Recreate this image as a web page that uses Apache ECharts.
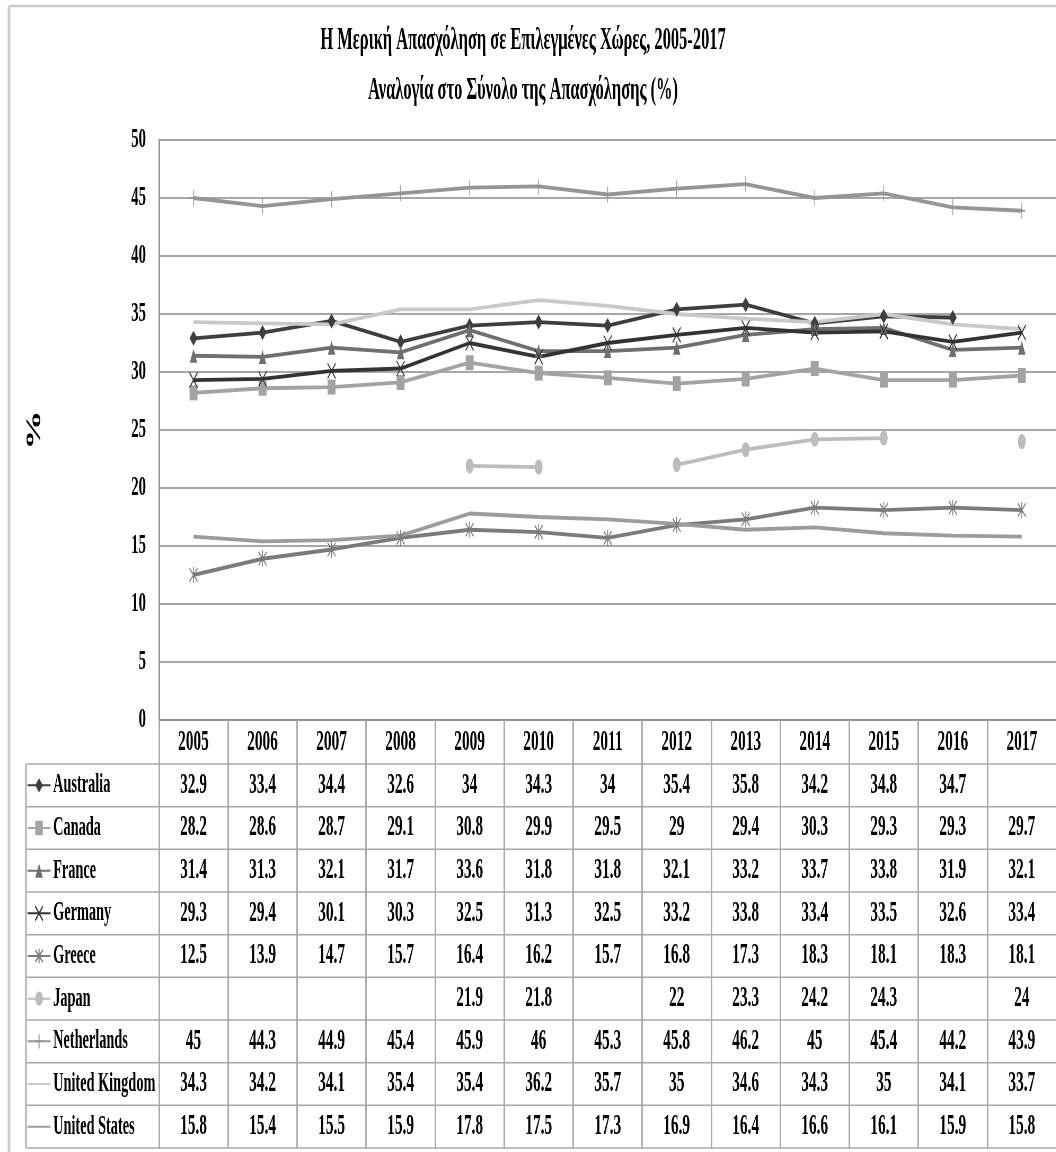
<!DOCTYPE html>
<html><head><meta charset="utf-8">
<script src="https://cdn.jsdelivr.net/npm/echarts@6/dist/echarts.min.js"></script>
<style>
html,body{margin:0;padding:0;background:#fff;overflow:hidden;width:1056px;height:1152px;}
#c{width:1993px;height:1152px;transform:scaleX(0.53);transform-origin:0 0;}
</style></head><body><div id="c"></div>
<script>
// ---- data ----
const years = ['2005','2006','2007','2008','2009','2010','2011','2012','2013','2014','2015','2016','2017'];
const australia   = [32.9,33.4,34.4,32.6,34,34.3,34,35.4,35.8,34.2,34.8,34.7,null];
const canada      = [28.2,28.6,28.7,29.1,30.8,29.9,29.5,29,29.4,30.3,29.3,29.3,29.7];
const france      = [31.4,31.3,32.1,31.7,33.6,31.8,31.8,32.1,33.2,33.7,33.8,31.9,32.1];
const germany     = [29.3,29.4,30.1,30.3,32.5,31.3,32.5,33.2,33.8,33.4,33.5,32.6,33.4];
const greece      = [12.5,13.9,14.7,15.7,16.4,16.2,15.7,16.8,17.3,18.3,18.1,18.3,18.1];
const japan       = [null,null,null,null,21.9,21.8,null,22,23.3,24.2,24.3,null,24];
const netherlands = [45,44.3,44.9,45.4,45.9,46,45.3,45.8,46.2,45,45.4,44.2,43.9];
const unitedKingdom = [34.3,34.2,34.1,35.4,35.4,36.2,35.7,35,34.6,34.3,35,34.1,33.7];
const unitedStates  = [15.8,15.4,15.5,15.9,17.8,17.5,17.3,16.9,16.4,16.6,16.1,15.9,15.8];
const seriesNames = ['Australia','Canada','France','Germany','Greece','Japan','Netherlands','United Kingdom','United States'];
const seriesValues = [australia,canada,france,germany,greece,japan,netherlands,unitedKingdom,unitedStates];
const yMin = 0, yMax = 50, yStep = 5;
const titleLine1 = 'Η Μερική Απασχόληση σε Επιλεγμένες Χώρες, 2005-2017';
const titleLine2 = 'Αναλογία στο Σύνολο της Απασχόλησης (%)';
const yAxisName = '%';

// ---- styles ----
const S = 0.53;             // horizontal squeeze applied by CSS
const X = r => r / S;       // real px -> chart px (x only)
const FAM = 'Liberation Serif';
const colors = ['#3e3e3e','#a3a3a3','#6f6f6f','#333333','#7b7b7b','#bdbdbd','#959595','#c9c9c9','#9c9c9c'];
const pX = 'path://M0,0L10,10M10,0L0,10';
const pStar = 'path://M0,0L10,10M10,0L0,10M5,-1L5,11';
const pPlus = 'path://M5,0L5,10M0,5L10,5';
const symbols = ['diamond','rect','triangle',pX,pStar,'circle',pPlus,'none','none'];
const sizes = [[15,15],[15,15],[14,14],[15,15],[15,16],[15,15],[12,16],1,1];
const pathBorder = [0,0,0,1.6,1.6,0,1.6,0,0];

const chart = echarts.init(document.getElementById('c'));
const gridTop = 140, gridBottomY = 720;
const tableTop = 764, tableBottom = 1148;
const rowH = (tableBottom - tableTop) / seriesNames.length;

const series = seriesNames.map((n,i) => ({
  name: n, type: 'line', data: seriesValues[i],
  connectNulls: false, animation: false,
  symbol: symbols[i], symbolSize: sizes[i], showSymbol: symbols[i] !== 'none',
  lineStyle: {color: colors[i], width: 3.8},
  itemStyle: {color: colors[i], borderColor: colors[i], borderWidth: pathBorder[i]},
  emphasis: {disabled: true}
}));

const option = {
  animation: false,
  backgroundColor: '#fff',
  grid: {left: X(159), top: gridTop, width: X(1060) - X(159), height: gridBottomY - gridTop, containLabel: false},
  xAxis: {
    type: 'category', data: years, boundaryGap: true,
    axisLine: {lineStyle: {color: '#8f8f8f', width: 1.5}},
    axisTick: {show: true, interval: 0, length: tableBottom - gridBottomY, lineStyle: {color: '#a8a8a8', width: 2.8}},
    axisLabel: {interval: 0, margin: 8, fontFamily: FAM, fontWeight: 'bold', fontSize: 29, color: '#000'},
    splitLine: {show: false}
  },
  yAxis: {
    type: 'value', min: yMin, max: yMax, interval: yStep,
    name: yAxisName, nameLocation: 'middle', nameRotate: 90, nameGap: 214,
    nameTextStyle: {fontFamily: FAM, fontWeight: 'bold', fontSize: 40, color: '#000'},
    axisLine: {show: true, lineStyle: {color: '#8f8f8f', width: 2.8}},
    axisTick: {show: false},
    axisLabel: {margin: X(13), fontFamily: FAM, fontWeight: 'bold', fontSize: 28, color: '#000'},
    splitLine: {lineStyle: {color: '#8a8a8a', width: 1.5}}
  },
  legend: {
    orient: 'vertical', left: X(27), top: tableTop + (rowH - 28) / 2,
    itemWidth: X(23), itemHeight: 18, itemGap: rowH - 28, padding: 0,
    selectedMode: false,
    textStyle: {fontFamily: FAM, fontWeight: 'bold', fontSize: 27, color: '#000', lineHeight: 28},
    data: seriesNames.map((n,i) => symbols[i] === 'none' ? {name: n, itemStyle: {opacity: 0}} : {name: n})
  },
  series: series
};
chart.setOption(option);

// ---- graphic: title, frame, table lines, table values ----
const g = [];
const txt = (x, y, s, size, align) => ({
  type: 'text', x: x, y: y, silent: true,
  style: {text: s, font: 'bold ' + size + 'px "' + FAM + '"', fill: '#000',
          textAlign: align || 'center', textVerticalAlign: 'middle', align: align || 'center', verticalAlign: 'middle'}
});
g.push(txt(X(523), 41, titleLine1, 31));
g.push(txt(X(523), 91, titleLine2, 31));
// outer frame
g.push({type: 'line', silent: true, shape: {x1: X(9), y1: 6, x2: X(9), y2: 1160}, style: {stroke: '#cccccc', lineWidth: 5}});
g.push({type: 'line', silent: true, shape: {x1: X(9), y1: 6, x2: X(1070), y2: 6}, style: {stroke: '#cccccc', lineWidth: 2.5}});
// table rows
for (let k = 0; k <= seriesNames.length; k++) {
  const y = tableTop + k * rowH;
  g.push({type: 'line', silent: true, shape: {x1: X(26), y1: y, x2: X(1070), y2: y}, style: {stroke: '#a8a8a8', lineWidth: 1.5}});
}
g.push({type: 'line', silent: true, shape: {x1: X(26), y1: tableTop, x2: X(26), y2: tableBottom}, style: {stroke: '#a8a8a8', lineWidth: 2.8}});
// table values
seriesValues.forEach((arr, i) => {
  const yc = tableTop + (i + 0.5) * rowH;
  arr.forEach((v, j) => {
    if (v === null || v === undefined) return;
    const xc = chart.convertToPixel({xAxisIndex: 0}, years[j]);
    g.push(txt(xc, yc, String(v), 29));
  });
});
chart.setOption({graphic: {elements: g}});
</script>
</body></html>
